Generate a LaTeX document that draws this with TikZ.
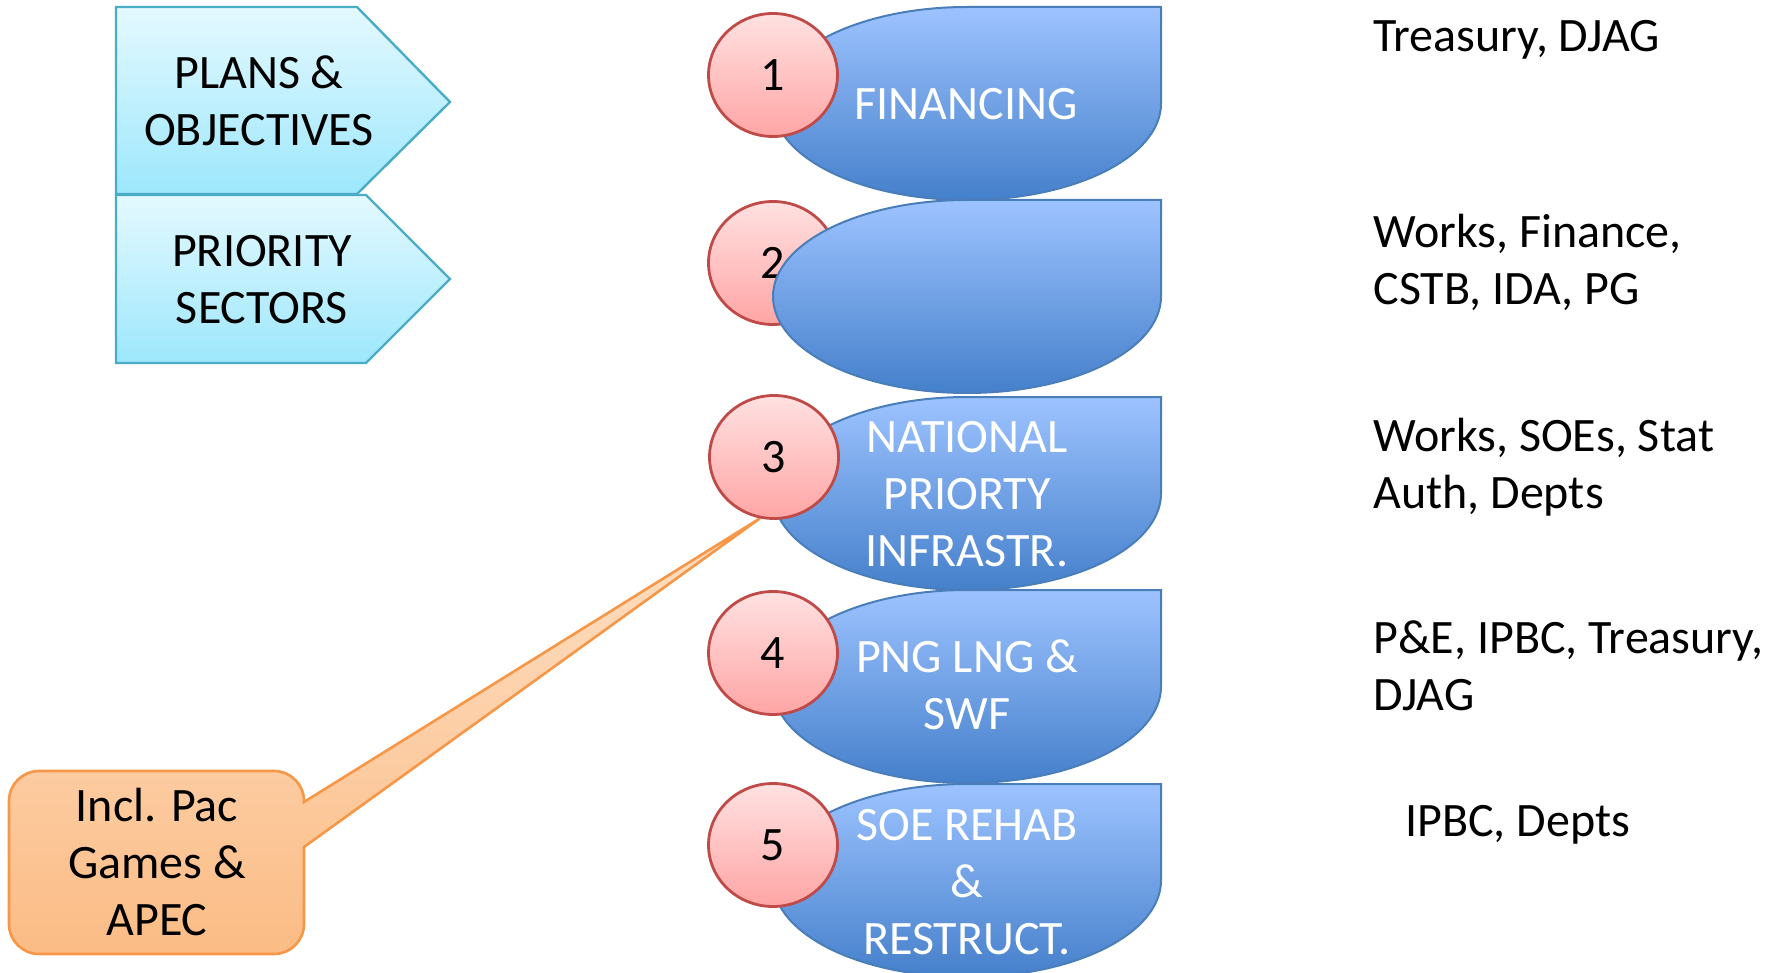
\documentclass[tikz,border=0pt]{standalone}
\usepackage{fontspec}
\setmainfont{Carlito}
\usetikzlibrary{shapes.geometric}
\pgfdeclarelayer{back}
\pgfsetlayers{back,main}
\definecolor{bluetop}{HTML}{9DC3FF}
\definecolor{bluebot}{HTML}{4580CB}
\definecolor{blueline}{HTML}{4A7EBB}
\definecolor{pinktop}{HTML}{FFE1E1}
\definecolor{pinkbot}{HTML}{FFA5A5}
\definecolor{pinkline}{HTML}{BE4B48}
\definecolor{cyantop}{HTML}{E4F9FF}
\definecolor{cyanbot}{HTML}{9DE7FC}
\definecolor{cyanline}{HTML}{4BACC6}
\definecolor{orgtop}{HTML}{FEE0C6}
\definecolor{orgbot}{HTML}{FBBC85}
\definecolor{orgline}{HTML}{F79646}
\newcommand{\bigfont}{\fontsize{24pt}{28.5pt}\selectfont}
\newcommand{\bluedrop}[2]{%
  \pgfmathsetmacro{\cyv}{(#1+#2)/2}%
  \pgfmathsetmacro{\ryv}{(#2-#1)/4}%
  \path[bluefill] (967,#1) -- (1161,#1) -- (1161,\cyv)
    arc[start angle=0,end angle=-270,x radius=97pt,y radius=\ryv pt] -- cycle;
}
\begin{document}
\begin{tikzpicture}[x=0.5pt,y=-0.5pt,
  txt/.style={font=\bigfont, inner sep=0pt, text=black},
  wtxt/.style={font=\bigfont, inner sep=0pt, text=white, align=center, anchor=base},
  pent/.style={draw=cyanline, line width=1.2pt, top color=cyantop, bottom color=cyanbot},
  bluefill/.style={draw=blueline, line width=1pt, top color=bluetop, bottom color=bluebot},
  numc/.style={ellipse, minimum width=64.5pt, minimum height=61.5pt, inner sep=0pt,
    draw=pinkline, line width=1.4pt, top color=pinktop, bottom color=pinkbot, font=\bigfont},
  callout/.style={draw=orgline, line width=1.3pt, top color=orgtop, bottom color=orgbot}]
\useasboundingbox (0,0) rectangle (1783,973);

% left chevrons
\path[pent] (116,7) -- (357,7) -- (450,102) -- (357,194) -- (116,194) -- cycle;
\node[txt, align=center, anchor=base] (p1) at (259,145.7) {PLANS \&\\OBJECTIVES};
\path[pent] (116,195) -- (366,195) -- (450,279) -- (366,363) -- (116,363) -- cycle;
\node[txt, align=center, anchor=base] (p2) at (262,323.3) {PRIORITY\\SECTORS};

% blue shapes and numbered circles
\bluedrop{7}{200}
\node[wtxt] (f1) at (966,119.3) {FINANCING};
\node[numc] (c1) at (773,75) {1};
\node[numc] (c2) at (773,263) {2};
\bluedrop{200}{393}
\bluedrop{397}{590}
\node[wtxt] (f3) at (967,566.6) {NATIONAL\\PRIORTY\\INFRASTR.};
\node[numc] (c3) at (774,457) {3};
\bluedrop{590}{783}
\node[wtxt] (f4) at (967,729) {PNG LNG \&\\SWF};
\node[numc] (c4) at (773,653) {4};
\bluedrop{784}{977}
\node[wtxt] (f5) at (967,954) {SOE REHAB\\\&\\RESTRUCT.};
\node[numc] (c5) at (773,845) {5};

% callout
\begin{pgfonlayer}{back}
\coordinate (tip) at (c3.257);
\path[callout] (304,802) -- (tip) -- (304,847) -- (304,924)
  arc[start angle=0,end angle=-90,radius=15pt] -- (39,954)
  arc[start angle=-90,end angle=-180,radius=15pt] -- (9,801)
  arc[start angle=180,end angle=90,radius=15pt] -- (274,771)
  arc[start angle=90,end angle=0,radius=15pt] -- cycle;
\end{pgfonlayer}
\node[txt, align=center, anchor=base] (co) at (157,935) {Incl. Pac\\Games \&\\APEC};

% right labels
\node[txt, anchor=base west] (r1) at (1373,51.7) {Treasury, DJAG};
\node[txt, anchor=base west, align=left] (r2) at (1373,305) {Works, Finance,\\CSTB, IDA, PG};
\node[txt, anchor=base west, align=left] (r3) at (1373,508.5) {Works, SOEs, Stat\\Auth, Depts};
\node[txt, anchor=base west, align=left] (r4) at (1373,710) {P\&E, IPBC, Treasury,\\DJAG};
\node[txt, anchor=base west] (r5) at (1405,836.7) {IPBC, Depts};
\end{tikzpicture}
\end{document}
